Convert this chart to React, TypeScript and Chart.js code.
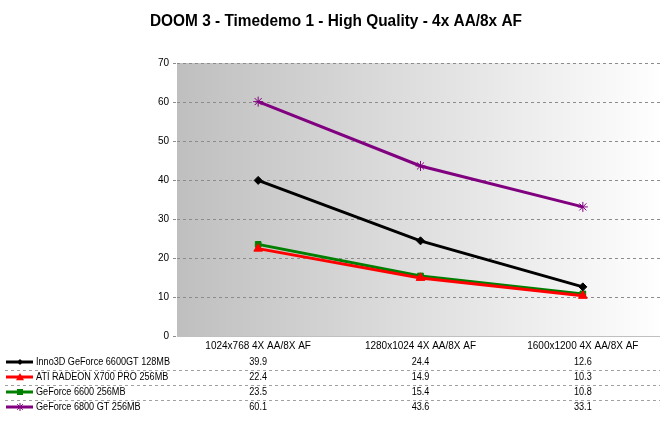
import React, { useEffect, useRef } from 'react';
import { Chart, registerables } from 'chart.js';

Chart.register(...registerables);

const chartTitle = 'DOOM 3 - Timedemo 1 - High Quality - 4x AA/8x AF';
const categories = ['1024x768 4X AA/8X AF', '1280x1024 4X AA/8X AF', '1600x1200 4X AA/8X AF'];
const seriesNames = [
  'Inno3D GeForce 6600GT 128MB',
  'ATI RADEON X700 PRO 256MB',
  'GeForce 6600 256MB',
  'GeForce 6800 GT 256MB',
];
const inno3d6600gt = [39.9, 24.4, 12.6];
const atiX700pro = [22.4, 14.9, 10.3];
const geforce6600 = [23.5, 15.4, 10.8];
const geforce6800gt = [60.1, 43.6, 33.1];
const yMin = 0;
const yMax = 70;
const yStep = 10;

const seriesValues = [inno3d6600gt, atiX700pro, geforce6600, geforce6800gt];
const seriesColors = ['#000000', '#ff0000', '#008000', '#800080'];
const seriesPoints = ['rectRot', 'triangle', 'rect', 'star'];
const seriesRadius = [4, 5, 4, 5];

const FONT = '"Liberation Sans", Arial, sans-serif';

function drawMarker(ctx: CanvasRenderingContext2D, style: string, x: number, y: number, r: number, color: string) {
  ctx.save();
  ctx.fillStyle = color;
  ctx.strokeStyle = color;
  ctx.lineWidth = 1;
  ctx.beginPath();
  if (style === 'rectRot') {
    ctx.moveTo(x, y - r);
    ctx.lineTo(x + r, y);
    ctx.lineTo(x, y + r);
    ctx.lineTo(x - r, y);
    ctx.closePath();
    ctx.fill();
  } else if (style === 'triangle') {
    ctx.moveTo(x, y - r);
    ctx.lineTo(x + r, y + r * 0.8);
    ctx.lineTo(x - r, y + r * 0.8);
    ctx.closePath();
    ctx.fill();
  } else if (style === 'rect') {
    ctx.rect(x - r, y - r, r * 2, r * 2);
    ctx.fill();
  } else {
    ctx.moveTo(x - r, y); ctx.lineTo(x + r, y);
    ctx.moveTo(x, y - r); ctx.lineTo(x, y + r);
    ctx.moveTo(x - r * 0.7, y - r * 0.7); ctx.lineTo(x + r * 0.7, y + r * 0.7);
    ctx.moveTo(x - r * 0.7, y + r * 0.7); ctx.lineTo(x + r * 0.7, y - r * 0.7);
    ctx.stroke();
  }
  ctx.restore();
}

function fillTextScaled(ctx: CanvasRenderingContext2D, text: string, x: number, y: number, sx: number, align: 'left' | 'center') {
  ctx.save();
  ctx.translate(x, y);
  ctx.scale(sx, 1);
  ctx.textAlign = align;
  ctx.fillText(text, 0, 0);
  ctx.restore();
}

const decorPlugin = {
  id: 'decor',
  beforeDraw(chart: any) {
    const { ctx, chartArea } = chart;
    const g = ctx.createLinearGradient(chartArea.left, 0, chartArea.right, 0);
    g.addColorStop(0, '#bfbfbf');
    g.addColorStop(1, '#ffffff');
    ctx.save();
    ctx.fillStyle = g;
    ctx.fillRect(chartArea.left, chartArea.top, chartArea.right - chartArea.left, chartArea.bottom - chartArea.top);
    ctx.fillStyle = '#000';
    ctx.font = `bold 16px ${FONT}`;
    ctx.textBaseline = 'middle';
    const w = ctx.measureText(chartTitle).width;
    fillTextScaled(ctx, chartTitle, 336, 22, Math.min(1, 372 / w), 'center');
    ctx.restore();
  },
  afterDraw(chart: any) {
    const { ctx } = chart;
    const xScale = chart.scales.x;
    ctx.save();
    const rowY0 = 362;
    const rowH = 15;
    ctx.strokeStyle = '#a0a0a0';
    ctx.lineWidth = 1;
    ctx.setLineDash([3, 3]);
    for (let i = 1; i < seriesNames.length; i++) {
      const y = Math.round(rowY0 + rowH * i - 7.5) + 0.5;
      ctx.beginPath();
      ctx.moveTo(5, y);
      ctx.lineTo(chart.width, y);
      ctx.stroke();
    }
    ctx.setLineDash([]);
    ctx.font = `10px ${FONT}`;
    ctx.textBaseline = 'middle';
    const w0 = ctx.measureText(seriesNames[0]).width;
    const sx = Math.min(1, 134 / w0);
    seriesNames.forEach((name, i) => {
      const y = rowY0 + rowH * i;
      ctx.strokeStyle = seriesColors[i];
      ctx.lineWidth = 3;
      ctx.beginPath();
      ctx.moveTo(6, y);
      ctx.lineTo(33, y);
      ctx.stroke();
      drawMarker(ctx, seriesPoints[i], 20, y, seriesRadius[i] - 1, seriesColors[i]);
      ctx.fillStyle = '#000';
      fillTextScaled(ctx, name, 36, y, sx, 'left');
      seriesValues[i].forEach((v, j) => {
        fillTextScaled(ctx, v.toFixed(1), xScale.getPixelForValue(j), y, sx, 'center');
      });
    });
    ctx.restore();
  },
};

export default function App() {
  const ref = useRef<HTMLCanvasElement | null>(null);
  useEffect(() => {
    if (!ref.current) return;
    const chart = new Chart(ref.current, {
      type: 'line',
      data: {
        labels: categories,
        datasets: seriesNames.map((name, i) => ({
          label: name,
          data: seriesValues[i],
          borderColor: seriesColors[i],
          backgroundColor: seriesColors[i],
          borderWidth: 3,
          pointStyle: seriesPoints[i] as any,
          pointRadius: seriesRadius[i],
          pointBorderWidth: 1,
          pointBackgroundColor: seriesColors[i],
          pointBorderColor: seriesColors[i],
          tension: 0,
          fill: false,
        })),
      },
      options: {
        responsive: false,
        animation: false,
        devicePixelRatio: 1,
        layout: { padding: { top: 63, left: 0, right: 0, bottom: 0 } },
        plugins: {
          legend: { display: false },
          title: { display: false },
          tooltip: { enabled: false },
        },
        scales: {
          x: {
            type: 'category',
            offset: true,
            grid: { display: false, drawTicks: false },
            border: { display: true, color: '#c0c0c0', width: 1 },
            ticks: { color: '#000', font: { family: FONT, size: 10 }, padding: 4, maxRotation: 0, autoSkip: false },
            afterFit: (s: any) => { s.height = 86; },
          },
          y: {
            min: yMin,
            max: yMax,
            grid: {
              color: (c: any) => (c.tick && c.tick.value === 0 ? 'rgba(0,0,0,0)' : '#8c8c8c'),
              borderDash: [3, 3],
              tickLength: 4,
              tickColor: '#8c8c8c',
              tickBorderDash: [3, 3],
            } as any,
            border: { display: false, dash: [3, 3] },
            ticks: { stepSize: yStep, color: '#000', font: { family: FONT, size: 10 }, padding: 4 },
            afterFit: (s: any) => { s.width = 177; },
          },
        },
      },
      plugins: [decorPlugin],
    });
    return () => chart.destroy();
  }, []);
  return (
    <div style={{ position: 'fixed', left: 0, top: 0, width: 660, height: 422, overflow: 'hidden', background: '#fff' }}>
      <canvas ref={ref} width={670} height={422} style={{ display: 'block', width: 670, height: 422 }} />
    </div>
  );
}
